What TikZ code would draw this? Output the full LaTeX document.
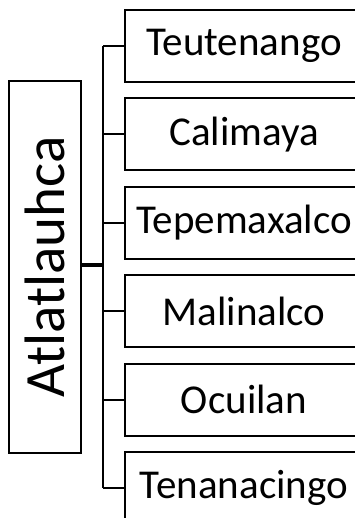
\documentclass[tikz,border=0pt]{standalone}
\usepackage{fontspec}
\setmainfont{Carlito}
\usetikzlibrary{positioning}

\begin{document}
\begin{tikzpicture}[x=1pt, y=-1pt, line width=2pt,
    muni/.style={minimum width=236pt, minimum height=70pt, inner sep=0pt,
      font=\fontsize{41}{49}\selectfont}]
  \useasboundingbox (0,0) rectangle (355,518);
  \clip (0,0) rectangle (355,518);

  % racine
  \node[draw, rotate=90, minimum width=372pt, minimum height=72pt, inner sep=0pt,
    font=\fontsize{57}{68}\selectfont] (root) at (45,267) {Atlatlauhca};

  % municipios (cadres ouverts a droite, coupes par le bord)
  \foreach \n/\y [count=\i] in {Teutenango/46, Calimaya/134.4, Tepemaxalco/222.8,
      Malinalco/311.2, Ocuilan/399.6, Tenanacingo/488} {
    \node[muni] (m\i) at (244,\y) {\n};
    \draw ([xshift=30pt]m\i.north east) -- (m\i.north west) -- (m\i.south west)
      -- ([xshift=30pt]m\i.south east);
  }

  % liens
  \coordinate (hub) at (103,265);
  \draw[line width=4.5pt] (root.south |- hub) -- (hub);
  \draw (hub |- m1.west) -- (hub |- m6.west);
  \foreach \i in {1,...,6} {
    \draw (hub |- m\i.west) -- (m\i.west);
  }
\end{tikzpicture}
\end{document}
